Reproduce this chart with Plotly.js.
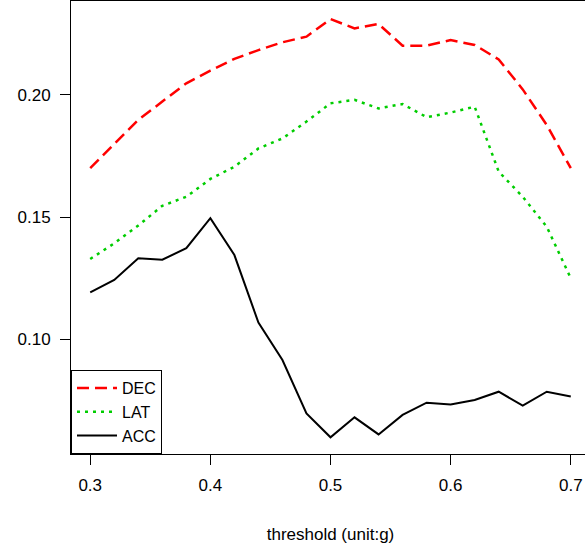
<!DOCTYPE html>
<html>
<head>
<meta charset="utf-8">
<script src="https://cdn.plot.ly/plotly-3.0.1.min.js"></script>
<style>
html,body{margin:0;padding:0;overflow:hidden;background:#fff;}
#chart{width:600px;height:546px;}
</style>
</head>
<body>
<div id="chart"></div>
<script>
const thresholds = [0.30,0.32,0.34,0.36,0.38,0.40,0.42,0.44,0.46,0.48,0.50,0.52,0.54,0.56,0.58,0.60,0.62,0.64,0.66,0.68,0.70];
const dec = [0.1700,0.1798,0.1898,0.1973,0.2048,0.2100,0.2148,0.2184,0.2216,0.2239,0.2311,0.2273,0.2291,0.2202,0.2202,0.2225,0.2205,0.2146,0.2023,0.1877,0.1700];
const lat = [0.1328,0.1392,0.1465,0.1546,0.1583,0.1656,0.1706,0.1781,0.1822,0.1891,0.1966,0.1980,0.1945,0.1963,0.1909,0.1928,0.1952,0.1686,0.1583,0.1460,0.1249];
const acc = [0.1191,0.1242,0.1331,0.1325,0.1372,0.1495,0.1344,0.1067,0.0914,0.0695,0.0597,0.0679,0.0609,0.0689,0.0739,0.0732,0.0750,0.0784,0.0727,0.0784,0.0764];
const xTicks = [0.3,0.4,0.5,0.6,0.7];
const xTickText = ["0.3","0.4","0.5","0.6","0.7"];
const yTicks = [0.10,0.15,0.20];
const yTickText = ["0.10","0.15","0.20"];

const font = "Liberation Sans, Arial, sans-serif";
const traces = [
  {x: thresholds, y: dec, name: "DEC", mode: "lines", line: {color: "#FF0000", width: 2.5, dash: "12px,6px"}},
  {x: thresholds, y: lat, name: "LAT", mode: "lines", line: {color: "#00CD00", width: 2.5, dash: "3px,5px"}},
  {x: thresholds, y: acc, name: "ACC", mode: "lines", line: {color: "#000000", width: 2}}
];
const layout = {
  width: 600, height: 546,
  margin: {l: 71, r: 10, t: 1, b: 92},
  paper_bgcolor: "#fff", plot_bgcolor: "#fff",
  font: {family: font, size: 16, color: "#000"},
  showlegend: true,
  legend: {x: 0, y: 0, xanchor: "left", yanchor: "bottom", bordercolor: "#000", borderwidth: 1,
           bgcolor: "#fff", font: {family: font, size: 16, color: "#000"}, tracegroupgap: 0,
           itemwidth: 40},
  xaxis: {range: [0.284, 0.716], tickvals: xTicks, ticktext: xTickText, ticks: "outside", ticklen: 10,
          tickcolor: "#000", tickwidth: 1, showline: true, mirror: true, linecolor: "#000", linewidth: 1,
          showgrid: false, zeroline: false, tickfont: {family: font, size: 17}, ticklabelstandoff: 6,
          title: {text: "threshold (unit:g)", font: {family: font, size: 17}, standoff: 33}},
  yaxis: {range: [0.05287, 0.23852], tickvals: yTicks, ticktext: yTickText, ticks: "outside", ticklen: 10,
          tickcolor: "#000", tickwidth: 1, showline: true, mirror: true, linecolor: "#000", linewidth: 1,
          showgrid: false, zeroline: false, tickfont: {family: font, size: 17}, ticklabelstandoff: 6}
};
Plotly.newPlot("chart", traces, layout, {staticPlot: true, displayModeBar: false});
</script>
</body>
</html>
